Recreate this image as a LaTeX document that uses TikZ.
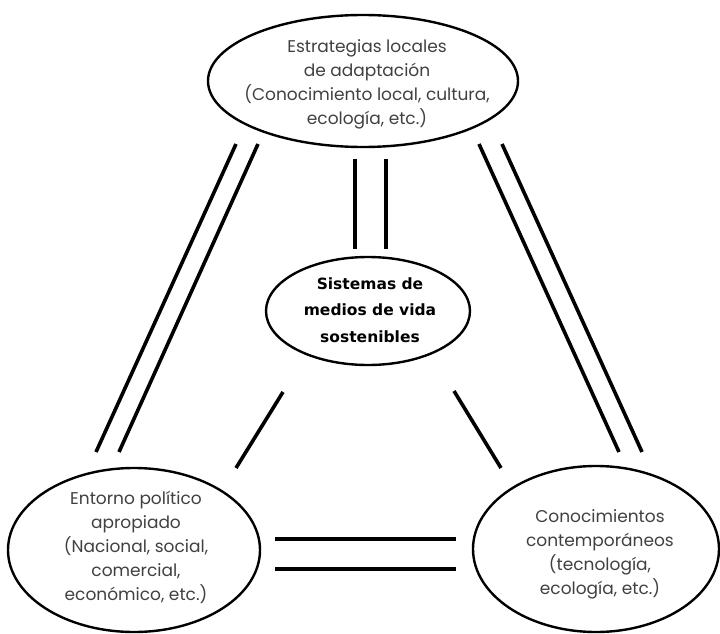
\documentclass[tikz,border=0pt]{standalone}
\usepackage{fontspec}
\setmainfont{Poppins}
\newfontfamily\boldfam{DejaVu Sans}
\usetikzlibrary{shapes.geometric}
\definecolor{txtgray}{HTML}{404040}
\tikzset{
  ov/.style={draw=black, line width=2.4pt, ellipse, inner sep=0pt},
  lbl/.style={align=center, text=txtgray, inner sep=0pt, font=\fontsize{17}{24}\selectfont},
  bar/.style={line width=3.6pt, line cap=butt},
}
\begin{document}
\begin{tikzpicture}[x=1pt,y=-1pt]
\useasboundingbox (0,0) rectangle (720,634);
\node[ov, minimum width=310pt, minimum height=132pt] (top) at (363,81) {};
\node[lbl] (toptxt) at (367,84)
  {Estrategias locales\\de adaptación\\(Conocimiento local, cultura,\\ecología, etc.)};
\node[ov, minimum width=204pt, minimum height=108pt] (mid) at (368,311) {};
\node[lbl, text=black, font=\boldfam\bfseries\fontsize{15.5}{26.5}\selectfont] (midtxt) at (370,310)
  {Sistemas de\\medios de vida\\sostenibles};
\node[ov, minimum width=252pt, minimum height=164pt] (bl) at (134,550) {};
\node[lbl] (bltxt) at (136,547)
  {Entorno político\\apropiado\\(Nacional, social,\\comercial,\\económico, etc.)};
\node[ov, minimum width=246pt, minimum height=166pt] (br) at (596,549) {};
\node[lbl] (brtxt) at (600,554)
  {Conocimientos\\contemporáneos\\(tecnología,\\ecología, etc.)};
% left double
\coordinate (l1a) at (236,144); \coordinate (l1b) at (96,452);
\coordinate (l2a) at (258,144); \coordinate (l2b) at (119,452);
% right double
\coordinate (r1a) at (479,144); \coordinate (r1b) at (619,452);
\coordinate (r2a) at (502,144); \coordinate (r2b) at (642,452);
% centre vertical
\coordinate (v1a) at (355,159); \coordinate (v1b) at (355,249);
\coordinate (v2a) at (386,159); \coordinate (v2b) at (386,249);
% bottom horizontal
\coordinate (h1a) at (275,539); \coordinate (h1b) at (456,539);
\coordinate (h2a) at (275,569); \coordinate (h2b) at (456,569);
% singles
\coordinate (sla) at (283,392); \coordinate (slb) at (236,468);
\coordinate (sra) at (454,391); \coordinate (srb) at (501,468);
\draw[bar] (l1a) -- (l1b);
\draw[bar] (l2a) -- (l2b);
\draw[bar] (r1a) -- (r1b);
\draw[bar] (r2a) -- (r2b);
\draw[bar] (v1a) -- (v1b);
\draw[bar] (v2a) -- (v2b);
\draw[bar] (h1a) -- (h1b);
\draw[bar] (h2a) -- (h2b);
\draw[bar] (sla) -- (slb);
\draw[bar] (sra) -- (srb);
\end{tikzpicture}
\end{document}
